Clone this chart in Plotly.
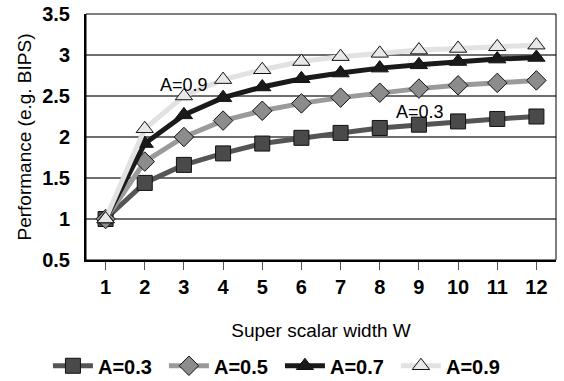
import plotly.graph_objects as go

widths = [1, 2, 3, 4, 5, 6, 7, 8, 9, 10, 11, 12]
perf_a03 = [1.0, 1.44, 1.66, 1.8, 1.92, 1.99, 2.05, 2.11, 2.15, 2.19, 2.22, 2.25]
perf_a05 = [1.0, 1.7, 2.0, 2.2, 2.32, 2.41, 2.48, 2.54, 2.59, 2.63, 2.66, 2.69]
perf_a07 = [1.0, 1.92, 2.27, 2.48, 2.61, 2.71, 2.78, 2.84, 2.88, 2.92, 2.95, 2.97]
perf_a09 = [1.0, 2.1, 2.5, 2.7, 2.82, 2.92, 2.98, 3.02, 3.06, 3.08, 3.1, 3.12]

series = [
    ("A=0.3", perf_a03, "#555555", "square", "#4a4a4a"),
    ("A=0.5", perf_a05, "#9a9a9a", "diamond", "#8c8c8c"),
    ("A=0.7", perf_a07, "#1a1a1a", "triangle-up", "#1a1a1a"),
    ("A=0.9", perf_a09, "#e2e2e2", "triangle-up", "#e8e8e8"),
]

fig = go.Figure()
for name, vals, lc, sym, mc in series:
    fig.add_trace(go.Scatter(
        x=widths, y=vals, name=f"<b>{name}</b>", mode="lines+markers",
        line=dict(color=lc, width=5),
        marker=dict(symbol=sym, size=15, color=mc,
                    line=dict(color="#111111", width=1)),
    ))

fig.add_annotation(x=2.34, y=2.64, text="A=0.9", showarrow=False,
                   xanchor="left", font=dict(size=18, color="black"))
fig.add_annotation(x=8.36, y=2.3, text="A=0.3", showarrow=False,
                   xanchor="left", font=dict(size=18, color="black"))

# thin frame around the plotting area
fig.add_shape(type="rect", xref="paper", yref="paper", x0=0, y0=0, x1=1, y1=1,
              line=dict(color="black", width=1), layer="above")

fig.update_layout(
    width=564, height=381,
    margin=dict(l=86, r=8, t=14, b=121, autoexpand=False),
    paper_bgcolor="white", plot_bgcolor="white",
    font=dict(family="Liberation Sans, Arial, sans-serif", color="black"),
    showlegend=True,
    legend=dict(orientation="h", x=0.085, xanchor="left", xref="container",
                y=0.04, yanchor="middle", yref="container",
                font=dict(size=20, family="Liberation Sans, Arial, sans-serif"),
                itemwidth=40, entrywidth=61, traceorder="normal"),
    xaxis=dict(
        range=[0.5, 12.5], tickmode="array", tickvals=widths,
        ticktext=[f"<b>{w}</b>" for w in widths],
        tickfont=dict(size=20), ticks="outside", ticklen=8, tickcolor="#555555",
        showline=True, linecolor="black", linewidth=2, showgrid=False, zeroline=False,
        title=dict(text="Super scalar width W", font=dict(size=19), standoff=27),
    ),
    yaxis=dict(
        range=[0.5, 3.5], tickmode="array", tickvals=[0.5, 1, 1.5, 2, 2.5, 3, 3.5],
        ticktext=["<b>0.5</b>", "<b>1</b>", "<b>1.5</b>", "<b>2</b>", "<b>2.5</b>", "<b>3</b>", "<b>3.5</b>"],
        tickfont=dict(size=20), ticks="", ticklabelstandoff=10,
        showline=True, linecolor="black", linewidth=2,
        showgrid=True, gridcolor="#6e6e6e", gridwidth=1.5, zeroline=False,
        title=dict(text="Performance (e.g. BIPS)", font=dict(size=19), standoff=6),
    ),
)

fig.write_html("out.html")
